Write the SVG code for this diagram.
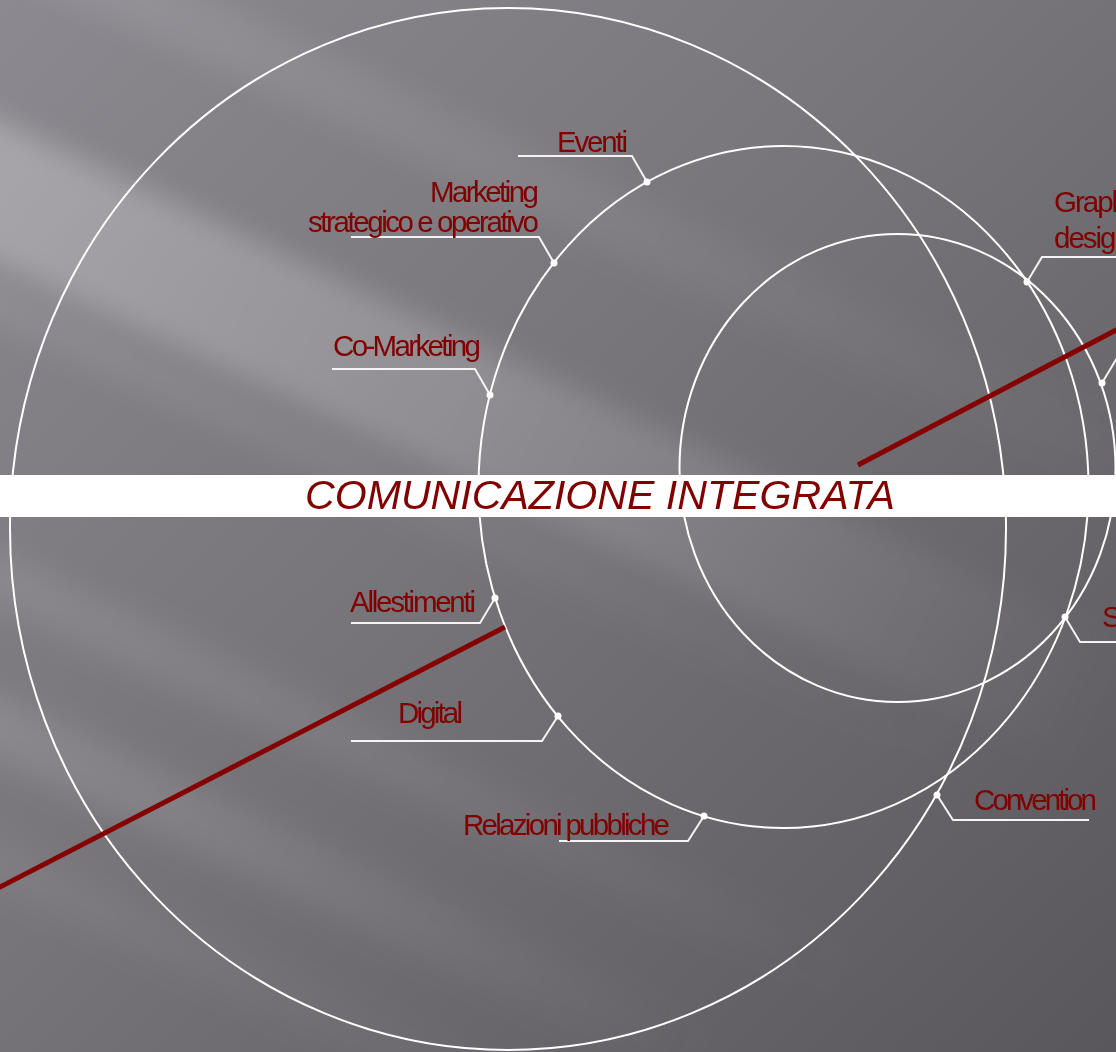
<svg xmlns="http://www.w3.org/2000/svg" width="1116" height="1052" viewBox="0 0 1116 1052">
  <defs>
    <linearGradient id="bg" x1="0" y1="0" x2="1" y2="1">
      <stop offset="0" stop-color="#8c8990"/>
      <stop offset="0.45" stop-color="#77747a"/>
      <stop offset="1" stop-color="#59575c"/>
    </linearGradient>
    <linearGradient id="fadeR" x1="0" y1="0" x2="1" y2="0">
      <stop offset="0" stop-color="#ffffff" stop-opacity="1"/>
      <stop offset="0.55" stop-color="#ffffff" stop-opacity="0.55"/>
      <stop offset="1" stop-color="#ffffff" stop-opacity="0"/>
    </linearGradient>
    <filter id="soft" x="-20%" y="-20%" width="140%" height="140%">
      <feGaussianBlur stdDeviation="14"/>
    </filter>
    <style>
      .ring { fill: none; stroke: #ffffff; stroke-width: 2; }
      .lead { fill: none; stroke: #f4f4f4; stroke-width: 2; }
      .dot { fill: #ffffff; }
      .lbl { font-family: "Liberation Sans", Arial, sans-serif; font-size: 29.5px; fill: #800000; }
      .title { font-family: "Liberation Sans", Arial, sans-serif; font-size: 41px; font-style: italic; fill: #800000; }
      .red { stroke: #850000; stroke-width: 5; fill: none; }
    </style>
  </defs>

  <!-- background -->
  <rect x="0" y="0" width="1116" height="1052" fill="url(#bg)"/>
  <g filter="url(#soft)" transform="rotate(25)">
    <rect x="-200" y="-90" width="1500" height="60" fill="url(#fadeR)" opacity="0.10"/>
    <rect x="-200" y="110" width="1500" height="130" fill="url(#fadeR)" opacity="0.30"/>
    <rect x="-200" y="255" width="1400" height="40" fill="url(#fadeR)" opacity="0.10"/>
    <rect x="-200" y="500" width="1400" height="50" fill="url(#fadeR)" opacity="0.12"/>
    <rect x="-200" y="630" width="1300" height="60" fill="url(#fadeR)" opacity="0.16"/>
    <rect x="-200" y="760" width="1300" height="45" fill="url(#fadeR)" opacity="0.08"/>
  </g>

  <!-- rings -->
  <g id="rings">
    <ellipse id="ring-outer" class="ring" cx="508" cy="529" rx="498" ry="521"/>
    <ellipse id="ring-middle" class="ring" cx="783.5" cy="487" rx="305" ry="341"/>
    <ellipse id="ring-inner" class="ring" cx="897.5" cy="468" rx="218" ry="234"/>
  </g>

  <!-- red line -->
  <g id="red-axis">
    <line class="red" x1="858" y1="465" x2="1122" y2="327"/>
    <line class="red" x1="505" y1="627" x2="-4" y2="889"/>
  </g>

  <!-- connectors (leaders) -->
  <g id="connectors">
    <polyline class="lead" points="647,182 632,156 518,156"/>
    <polyline class="lead" points="554,263 539,237 351,237"/>
    <polyline class="lead" points="490,395 475,369 332,369"/>
    <polyline class="lead" points="495,598 480,623 351,623"/>
    <polyline class="lead" points="558,716 542,741 351,741"/>
    <polyline class="lead" points="704,816 688,841 559,841"/>
    <polyline class="lead" points="937,795 953,820 1089,820"/>
    <polyline class="lead" points="1065,617 1080,642 1120,642"/>
    <polyline class="lead" points="1027,282 1042,257 1120,257"/>
    <polyline class="lead" points="1102,383 1117,358 1120,358"/>
  </g>

  <!-- nodes -->
  <g id="node-eventi">
    <circle class="dot" cx="647" cy="182" r="3.5"/>
    <text class="lbl" x="557" y="152" textLength="71" lengthAdjust="spacing">Eventi</text>
  </g>
  <g id="node-marketing">
    <circle class="dot" cx="554" cy="263" r="3.5"/>
    <text class="lbl" x="430" y="202" textLength="109" lengthAdjust="spacing">Marketing</text>
    <text class="lbl" x="308" y="232" textLength="231" lengthAdjust="spacing">strategico e operativo</text>
  </g>
  <g id="node-comarketing">
    <circle class="dot" cx="490" cy="395" r="3.5"/>
    <text class="lbl" x="333" y="356" textLength="148" lengthAdjust="spacing">Co-Marketing</text>
  </g>
  <g id="node-allestimenti">
    <circle class="dot" cx="495" cy="598" r="3.5"/>
    <text class="lbl" x="350" y="612" textLength="126" lengthAdjust="spacing">Allestimenti</text>
  </g>
  <g id="node-digital">
    <circle class="dot" cx="558" cy="716" r="3.5"/>
    <text class="lbl" x="398" y="723" textLength="65" lengthAdjust="spacing">Digital</text>
  </g>
  <g id="node-relazioni">
    <circle class="dot" cx="704" cy="816" r="3.5"/>
    <text class="lbl" x="463" y="835" textLength="207" lengthAdjust="spacing">Relazioni pubbliche</text>
  </g>
  <g id="node-convention">
    <circle class="dot" cx="937" cy="795" r="3.5"/>
    <text class="lbl" x="974" y="810" textLength="123" lengthAdjust="spacing">Convention</text>
  </g>
  <g id="node-s">
    <circle class="dot" cx="1065" cy="617" r="3.5"/>
    <text class="lbl" x="1102" y="627">S</text>
  </g>
  <g id="node-graphic">
    <circle class="dot" cx="1027" cy="282" r="3.5"/>
    <text class="lbl" x="1054" y="212" letter-spacing="-2">Graphic</text>
    <text class="lbl" x="1054" y="248" letter-spacing="-2">design</text>
  </g>
  <g id="node-right">
    <circle class="dot" cx="1102" cy="383" r="3.5"/>
  </g>

  <!-- banner -->
  <g id="banner">
    <rect x="0" y="475" width="1116" height="42" fill="#ffffff"/>
    <text class="title" x="305" y="509" textLength="590" lengthAdjust="spacingAndGlyphs">COMUNICAZIONE INTEGRATA</text>
  </g>
</svg>
